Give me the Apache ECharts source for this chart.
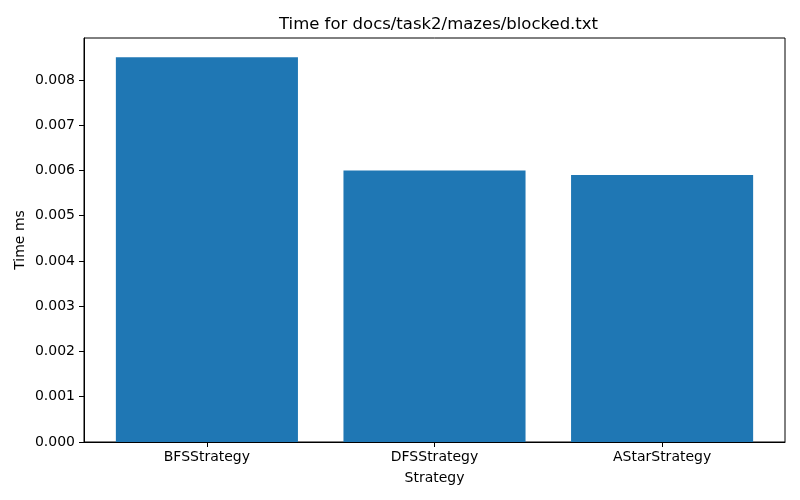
<!DOCTYPE html>
<html lang="en">
<head>
    <meta charset="UTF-8">
    <title>Time for docs/task2/mazes/blocked.txt</title>
    <script src="https://cdn.jsdelivr.net/npm/echarts@6/dist/echarts.min.js"></script>
    <style>
        html, body { margin: 0; padding: 0; background: #ffffff; }
        #chart { width: 800px; height: 500px; }
    </style>
</head>
<body>
<div id="chart"></div>
<script>
    // data
    var strategies = ['BFSStrategy', 'DFSStrategy', 'AStarStrategy'];
    var timesMs = [0.0085, 0.0060, 0.0059];
    var yTicks = [0, 0.001, 0.002, 0.003, 0.004, 0.005, 0.006, 0.007, 0.008];
    var xTicks = [0, 1, 2];

    var font = 'DejaVu Sans';
    var barData = [];
    for (var i = 0; i < strategies.length; i++) {
        barData.push([i, timesMs[i]]);
    }

    var chart = echarts.init(document.getElementById('chart'));
    var option = {
        animation: false,
        backgroundColor: '#ffffff',
        textStyle: { fontFamily: font },
        title: {
            text: 'Time for docs/task2/mazes/blocked.txt',
            left: 274,
            top: 11,
            textStyle: { fontFamily: font, fontSize: 16.5, fontWeight: 'normal', color: '#000' }
        },
        // y axis title, placed by hand (axis name ignored nameGap here)
        graphic: [{
            type: 'text',
            x: 20,
            y: 240,
            rotation: Math.PI / 2,
            style: {
                text: 'Time ms',
                fontFamily: font, fontSize: 14, fill: '#000',
                align: 'center', verticalAlign: 'middle'
            }
        }],
        grid: {
            left: 84, right: 15, top: 38, bottom: 58,
            show: true, borderColor: '#000', borderWidth: 1
        },
        xAxis: {
            type: 'value',
            min: -0.54,
            max: 2.54,
            name: 'Strategy',
            nameLocation: 'middle',
            nameGap: 29,
            nameTextStyle: { fontFamily: font, fontSize: 14, color: '#000' },
            splitLine: { show: false },
            axisLine: { show: true, onZero: false, lineStyle: { color: '#000', width: 1 } },
            axisTick: { show: true, length: 5, customValues: xTicks, lineStyle: { color: '#000' } },
            axisLabel: {
                customValues: xTicks,
                margin: 8,
                fontFamily: font, fontSize: 14, color: '#000',
                formatter: function (v) { return strategies[Math.round(v)]; }
            }
        },
        yAxis: {
            type: 'value',
            min: 0,
            max: 0.008925,
            splitLine: { show: false },
            axisLine: { show: true, onZero: false, lineStyle: { color: '#000', width: 1 } },
            axisTick: { show: true, length: 5, customValues: yTicks, lineStyle: { color: '#000' } },
            axisLabel: {
                customValues: yTicks,
                margin: 9,
                fontFamily: font, fontSize: 14, color: '#000',
                formatter: function (v) { return v.toFixed(3); }
            }
        },
        series: [{
            type: 'bar',
            data: barData,
            barWidth: '80%',
            itemStyle: { color: '#1f77b4' }
        }]
    };
    chart.setOption(option);
</script>
</body>
</html>
